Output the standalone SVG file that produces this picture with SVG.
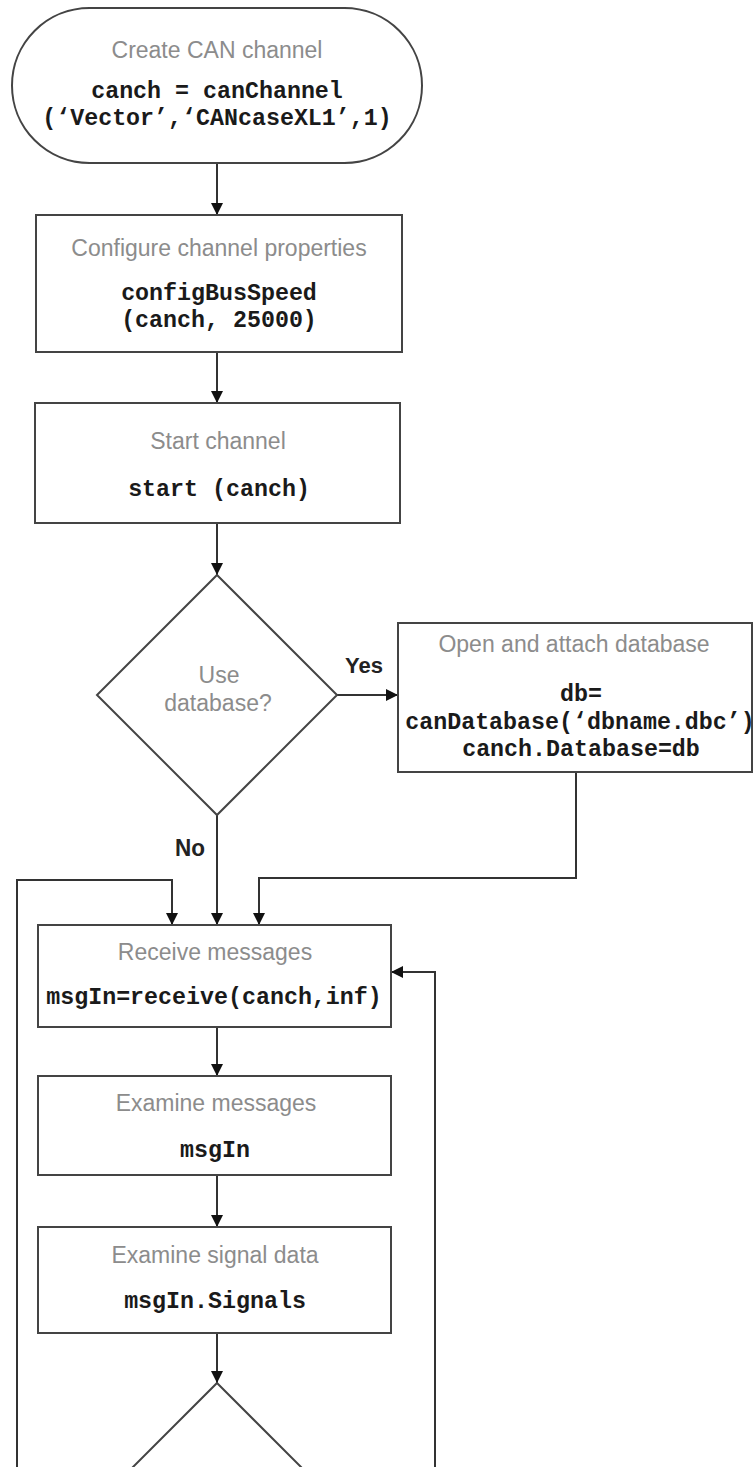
<svg xmlns="http://www.w3.org/2000/svg" width="754" height="1467" viewBox="0 0 754 1467">
<style>
.shape{fill:#fff;stroke:#444;stroke-width:2}
.title{font-family:"Liberation Sans",Arial,sans-serif;font-size:23px;fill:#8c8c8c;text-anchor:middle}
.code{font-family:"Liberation Mono","Courier New",monospace;font-size:23.3px;font-weight:bold;fill:#1a1a1a;text-anchor:middle}
.lbl{font-family:"Liberation Sans",Arial,sans-serif;font-size:22px;font-weight:bold;fill:#222}
.conn{fill:none;stroke:#333;stroke-width:2}
</style>
<defs>
<marker id="arr" markerUnits="userSpaceOnUse" markerWidth="13" markerHeight="13" refX="12" refY="6" orient="auto">
<path d="M0,0 L12,6 L0,12 z" fill="#111"/>
</marker>
</defs>
<rect width="754" height="1467" fill="#fff"/>
<g id="connectors">
<path class="conn" d="M217,163 V215" marker-end="url(#arr)"/>
<path class="conn" d="M217,352 V403" marker-end="url(#arr)"/>
<path class="conn" d="M217,523 V575" marker-end="url(#arr)"/>
<path class="conn" d="M337,695 H398" marker-end="url(#arr)"/>
<path class="conn" d="M217,815 V925" marker-end="url(#arr)"/>
<path class="conn" d="M576,772 V878 H259 V925" marker-end="url(#arr)"/>
<path class="conn" d="M17,1467 V880 H172 V925" marker-end="url(#arr)"/>
<path class="conn" d="M435,1467 V972 H391" marker-end="url(#arr)"/>
<path class="conn" d="M217,1027 V1076" marker-end="url(#arr)"/>
<path class="conn" d="M217,1175 V1227" marker-end="url(#arr)"/>
<path class="conn" d="M217,1333 V1383" marker-end="url(#arr)"/>
<text class="lbl" x="345" y="673" textLength="38" lengthAdjust="spacingAndGlyphs">Yes</text>
<text class="lbl" x="175" y="856" style="font-size:24px" textLength="30" lengthAdjust="spacingAndGlyphs">No</text>
</g>
<g id="create">
<rect class="shape" x="12" y="8" width="410" height="155" rx="77.5" ry="77.5"/>
<text class="title" x="217" y="58">Create CAN channel</text>
<text class="code" x="217" y="98">canch = canChannel</text>
<text class="code" x="217" y="125">(‘Vector’,‘CANcaseXL1’,1)</text>
</g>
<g id="configure">
<rect class="shape" x="36" y="215" width="366" height="137"/>
<text class="title" x="219" y="256">Configure channel properties</text>
<text class="code" x="219" y="300">configBusSpeed</text>
<text class="code" x="219" y="327">(canch, 25000)</text>
</g>
<g id="start">
<rect class="shape" x="35" y="403" width="365" height="120"/>
<text class="title" x="218" y="449">Start channel</text>
<text class="code" x="219" y="496">start (canch)</text>
</g>
<g id="usedb">
<path class="shape" d="M217,575 L337,695 L217,815 L97,695 Z"/>
<text class="title" x="219" y="683">Use</text>
<text class="title" x="218" y="711">database?</text>
</g>
<g id="opendb">
<rect class="shape" x="398" y="623" width="354" height="149"/>
<text class="title" x="574" y="652">Open and attach database</text>
<text class="code" x="581" y="701">db=</text>
<text class="code" x="580" y="729">canDatabase(‘dbname.dbc’)</text>
<text class="code" x="581" y="756">canch.Database=db</text>
</g>
<g id="receive">
<rect class="shape" x="38" y="925" width="353" height="102"/>
<text class="title" x="215" y="960">Receive messages</text>
<text class="code" x="214" y="1004">msgIn=receive(canch,inf)</text>
</g>
<g id="examine">
<rect class="shape" x="38" y="1076" width="353" height="99"/>
<text class="title" x="216" y="1111">Examine messages</text>
<text class="code" x="215" y="1157">msgIn</text>
</g>
<g id="signals">
<rect class="shape" x="38" y="1227" width="353" height="106"/>
<text class="title" x="215" y="1263">Examine signal data</text>
<text class="code" x="215" y="1308">msgIn.Signals</text>
</g>
<g id="decision2">
<path class="shape" d="M217,1383 L337,1503 L217,1623 L97,1503 Z"/>
</g>
</svg>
